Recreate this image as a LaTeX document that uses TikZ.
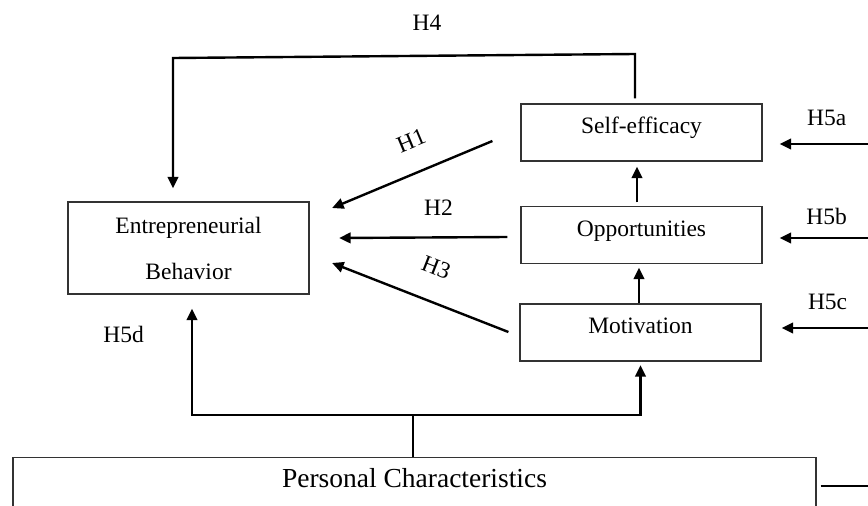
\documentclass[tikz,border=0pt]{standalone}
\usepackage{fontspec}
\setmainfont{Liberation Serif}
\usetikzlibrary{arrows.meta}

\begin{document}
\begin{tikzpicture}[x=1pt, y=-1pt, main/.style = {draw=black!80, line width=1.2pt, rectangle, minimum width=241pt, minimum height=57pt, inner sep=0pt, font=\fontsize{23.5}{46}\selectfont}, one/.style = {main, text height=9pt, text depth=7pt}, link/.style = {line width=2.4pt, -{Triangle[length=11.5pt, width=10.5pt]}}, lbl/.style = {inner sep=0pt, font=\fontsize{23.5}{28}\selectfont}]
        \clip (0,0) rectangle (868,506);
        \node[main, minimum height=92pt, align=center] (1) at (188.5,248) {Entrepreneurial\\Behavior};
        \node[one] (2) at (641.5,132.5) {Self-efficacy};
        \node[one] (3) at (641.5,235) {Opportunities};
        \node[one] (4) at (640.5,332.5) {Motivation};
        \node[main, anchor=north, minimum width=803pt, text height=30pt, text depth=53pt, font=\fontsize{27.5}{33}\selectfont] (5) at (414.5,457) {Personal Characteristics};
        \coordinate (tr) at (635,54);
        \coordinate (tl) at (173,58);
        \coordinate (j) at (413,415);
        \coordinate (r1) at (870,144);
        \coordinate (r2) at (870,238);
        \coordinate (r3) at (870,328);
        \coordinate (pr) at (870,486);
        \draw[link] ([xshift=-28pt,yshift=-8.5pt]2.west) to node[lbl, pos=0.43, sloped, above=23pt] (h1) {H1} ([xshift=22.5pt,yshift=40pt]1.east);
        \draw[link] ([xshift=-13pt,yshift=-2pt]3.west) to node[lbl, pos=0.41, above=21pt] (h2) {H2} ([xshift=29.5pt,yshift=10pt]1.east);
        \draw[link] ([xshift=-11pt,yshift=0.5pt]4.west) to node[lbl, pos=0.48, sloped, above=25pt] (h3) {H3} ([xshift=22.5pt,yshift=-15pt]1.east);
        \draw[link] ([xshift=-4.5pt,yshift=3.5pt]3.north) -- ([xshift=-4.5pt,yshift=-5pt]2.south);
        \draw[link] ([xshift=-1.5pt]4.north) -- ([xshift=-2.5pt,yshift=-3.5pt]3.south);
        \draw[link] ([xshift=-6.5pt,yshift=5pt]2.north) -- (tr) -- node[lbl, pos=0.45, above=24.5pt] (h4) {H4} (tl) -- ([xshift=-15.5pt,yshift=13pt]1.north);
        \draw[link] (r1) to node[lbl, pos=0.48, above=17pt] (h5a) {H5a} ([xshift=17pt,yshift=-11.5pt]2.east);
        \draw[link] (r2) to node[lbl, pos=0.48, above=12pt] (h5b) {H5b} ([xshift=17pt,yshift=-3pt]3.east);
        \draw[link] (r3) to node[lbl, pos=0.48, above=17.5pt] (h5c) {H5c} ([xshift=20pt,yshift=4.5pt]4.east);
        \draw[line width=2.4pt] (5.north -| j) -- (j);
        \draw[link] (j) -| node[lbl, pos=0.88, left=47pt] (h5d) {H5d} ([xshift=3.5pt,yshift=-14pt]1.south);
        \draw[link] (j) -| ([yshift=-3.5pt]4.south);
        \draw[line width=2.4pt] ([xshift=4pt,yshift=-29pt]5.north east) -- (pr);
    \end{tikzpicture}
\end{document}
